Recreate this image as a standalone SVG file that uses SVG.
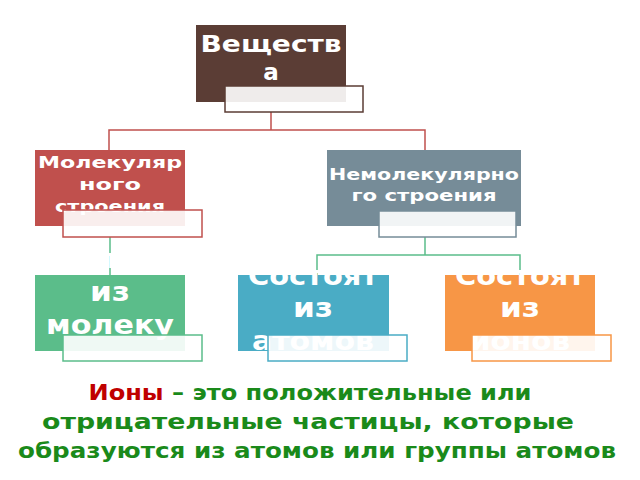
<svg xmlns="http://www.w3.org/2000/svg" width="640" height="480" viewBox="0 0 640 480">
<style>
.t{font-family:"DejaVu Sans",sans-serif;font-weight:bold;fill:#fff;text-anchor:middle}
.sub{fill:#fff;fill-opacity:0.9;stroke-width:1.5}
.c{fill:none;stroke-width:1.5}
.b{font-family:"DejaVu Sans",sans-serif;font-weight:bold;font-size:21px;fill:#1a8a1a;text-anchor:middle}
</style>
<rect width="640" height="480" fill="#fff"/>
<g id="connectors">
<path class="c" stroke="#c0504d" d="M271 112V130H109V150M271 130H425V150"/>
<path class="c" stroke="#5bbd8a" d="M110 237V275M425 237V255H317V275M425 255H520V275"/>
</g>
<g id="n1">
<rect x="196" y="25" width="150" height="77" fill="#5b3d35"/>
<text class="t" font-size="23" x="271" y="52" textLength="141" lengthAdjust="spacingAndGlyphs">Веществ</text>
<text class="t" font-size="23" x="271" y="80">а</text>
<rect class="sub" x="225" y="86" width="138" height="26" stroke="#5b3d35"/>
</g>
<g id="n2">
<rect x="35" y="150" width="150" height="76" fill="#c0504d"/>
<text class="t" font-size="16" x="110" y="168" textLength="144" lengthAdjust="spacingAndGlyphs">Молекуляр</text>
<text class="t" font-size="16" x="110" y="190" textLength="62" lengthAdjust="spacingAndGlyphs">ного</text>
<text class="t" font-size="16" x="110" y="212" textLength="110" lengthAdjust="spacingAndGlyphs">строения</text>
<rect class="sub" x="63" y="210" width="139" height="27" stroke="#c0504d"/>
</g>
<g id="n3">
<rect x="327" y="150" width="194" height="76" fill="#768c98"/>
<text class="t" font-size="16" x="424" y="180" textLength="190" lengthAdjust="spacingAndGlyphs">Немолекулярно</text>
<text class="t" font-size="16" x="424" y="201" textLength="145" lengthAdjust="spacingAndGlyphs">го строения</text>
<rect class="sub" x="379" y="211" width="137" height="26" stroke="#768c98"/>
</g>
<g id="n4">
<rect x="35" y="275" width="150" height="76" fill="#5bbd8a"/>
<text class="t" font-size="26" x="110" y="268" textLength="130" lengthAdjust="spacingAndGlyphs">Состоят</text>
<text class="t" font-size="26" x="110" y="301" textLength="40" lengthAdjust="spacingAndGlyphs">из</text>
<text class="t" font-size="26" x="110" y="334" textLength="128" lengthAdjust="spacingAndGlyphs">молеку</text>
<text class="t" font-size="26" x="110" y="367">л</text>
<rect class="sub" x="63" y="335" width="139" height="26" stroke="#5bbd8a"/>
</g>
<g id="n5">
<rect x="238" y="275" width="151" height="76" fill="#4aacc5"/>
<text class="t" font-size="26" x="313" y="285" textLength="130" lengthAdjust="spacingAndGlyphs">Состоят</text>
<text class="t" font-size="26" x="313" y="317" textLength="40" lengthAdjust="spacingAndGlyphs">из</text>
<text class="t" font-size="26" x="313" y="350" textLength="122" lengthAdjust="spacingAndGlyphs">атомов</text>
<rect class="sub" x="268" y="335" width="139" height="26" stroke="#4aacc5"/>
</g>
<g id="n6">
<rect x="445" y="275" width="150" height="76" fill="#f79646"/>
<text class="t" font-size="26" x="520" y="285" textLength="130" lengthAdjust="spacingAndGlyphs">Состоят</text>
<text class="t" font-size="26" x="520" y="317" textLength="40" lengthAdjust="spacingAndGlyphs">из</text>
<text class="t" font-size="26" x="520" y="350" textLength="100" lengthAdjust="spacingAndGlyphs">ионов</text>
<rect class="sub" x="472" y="335" width="139" height="26" stroke="#f79646"/>
</g>
<g id="caption">
<text class="b" x="310" y="400" textLength="443" lengthAdjust="spacingAndGlyphs"><tspan fill="#c00000">Ионы</tspan> – это положительные или</text>
<text class="b" x="308" y="429" textLength="532" lengthAdjust="spacingAndGlyphs">отрицательные частицы, которые</text>
<text class="b" x="317" y="458" textLength="598" lengthAdjust="spacingAndGlyphs">образуются из атомов или группы атомов</text>
</g>
</svg>
